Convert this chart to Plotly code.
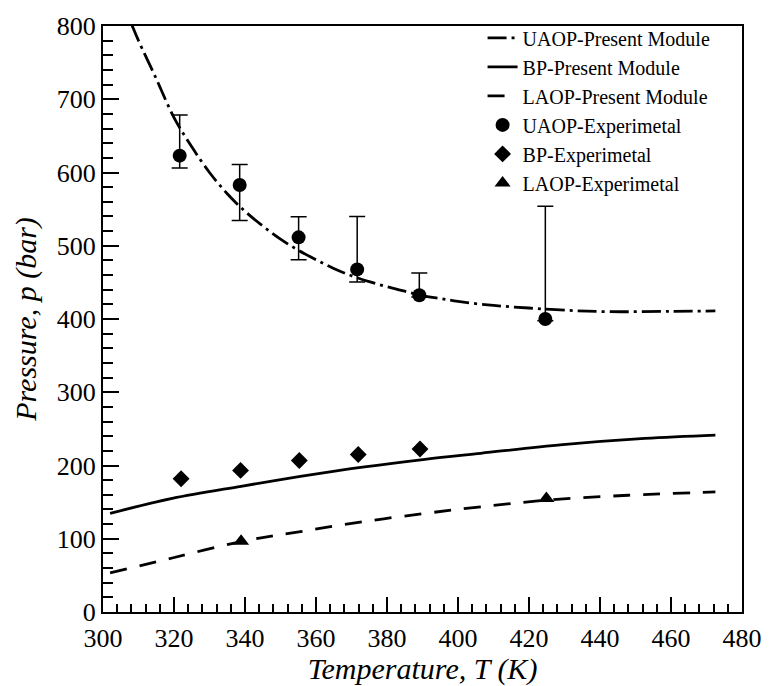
import plotly.graph_objects as go

# ---- Data ----
# Model curves (Present Module)
T_uaop_model = [302, 305, 308, 310, 315, 320, 325, 330, 335, 340, 345, 350, 355, 360, 365, 370,
                375, 380, 385, 390, 395, 400, 410, 420, 430, 442.5, 460, 472.5]
p_uaop_model = [885, 838, 803, 780, 728, 675, 635, 600, 571, 547, 527, 509, 494, 481, 469, 459,
                451, 444, 438, 432, 428, 424, 418.5, 415, 412, 410, 410.5, 411]

T_bp_model = [302, 319.5, 338.9, 355.6, 373.1, 390.7, 406.4, 429.5, 452.6, 472.5]
p_bp_model = [134.6, 155, 171.6, 185, 197.7, 208.5, 216.7, 228.5, 237, 241.6]

T_laop_model = [302, 319.5, 338.9, 355.6, 373.1, 390.7, 406.4, 424.9, 448, 472.5]
p_laop_model = [53.3, 73.7, 96.2, 109.7, 123.2, 134.6, 143.6, 152.6, 159.4, 163.9]

# Experimental data
T_uaop_exp = [321.6, 338.5, 355.1, 371.6, 389.1, 424.6]
p_uaop_exp = [623, 583, 511.5, 467.7, 432.5, 400]
p_uaop_upper = [678.5, 610.8, 539.5, 540, 462.7, 554]
p_uaop_lower = [606.3, 534.5, 480.8, 450.6, 430, 397.7]

T_bp_exp = [322, 338.75, 355.3, 371.9, 389.3]
p_bp_exp = [182, 193.3, 206.8, 215, 222.6]

T_laop_exp = [338.9, 424.9]
p_laop_exp = [96.5, 155]

x_ticks = [300, 320, 340, 360, 380, 400, 420, 440, 460, 480]
y_ticks = [0, 100, 200, 300, 400, 500, 600, 700, 800]

FONT = "Liberation Serif"

fig = go.Figure()

fig.add_trace(go.Scatter(x=T_uaop_model, y=p_uaop_model, mode="lines",
                         name="UAOP-Present Module", line_shape="spline",
                         line=dict(color="black", width=2.8, dash="19px,5px,3px,5px")))
fig.add_trace(go.Scatter(x=T_bp_model, y=p_bp_model, mode="lines",
                         name="BP-Present Module", line_shape="spline",
                         line=dict(color="black", width=2.8)))
fig.add_trace(go.Scatter(x=T_laop_model, y=p_laop_model, mode="lines",
                         name="LAOP-Present Module", line_shape="spline",
                         line=dict(color="black", width=2.8, dash="17px,13px")))

err_plus = [u - p for u, p in zip(p_uaop_upper, p_uaop_exp)]
err_minus = [p - l for l, p in zip(p_uaop_lower, p_uaop_exp)]
fig.add_trace(go.Scatter(x=T_uaop_exp, y=p_uaop_exp, mode="markers",
                         name="UAOP-Experimetal",
                         marker=dict(symbol="circle", size=14, color="black"),
                         error_y=dict(type="data", symmetric=False, array=err_plus,
                                      arrayminus=err_minus, color="black",
                                      thickness=1.5, width=8)))
fig.add_trace(go.Scatter(x=T_bp_exp, y=p_bp_exp, mode="markers",
                         name="BP-Experimetal",
                         marker=dict(symbol="diamond", size=13, color="black")))
fig.add_trace(go.Scatter(x=T_laop_exp, y=p_laop_exp, mode="markers",
                         name="LAOP-Experimetal",
                         marker=dict(symbol="triangle-up", size=14, color="black")))

axis_common = dict(
    showgrid=False, zeroline=False,
    showline=True, linecolor="black", linewidth=2, mirror=True,
    ticks="inside", tickcolor="black", tickwidth=2,
    tickfont=dict(family=FONT, size=26, color="black"),
)

fig.update_xaxes(
    range=[300, 480], tickvals=x_ticks, ticktext=[str(v) for v in x_ticks], ticklen=15,
    ticklabelstandoff=2,
    minor=dict(dtick=4, ticks="inside", ticklen=8, tickwidth=2, tickcolor="black"),
    title=dict(text="<i>Temperature, T (K)</i>", font=dict(family=FONT, size=30, color="black"),
               standoff=0),
    **axis_common)
fig.update_yaxes(
    range=[0, 800], tickvals=y_ticks, ticktext=[str(v) for v in y_ticks], ticklen=16,
    minor=dict(dtick=20, ticks="inside", ticklen=10, tickwidth=2, tickcolor="black"),
    title=dict(text="<i>Pressure, p (bar)</i>", font=dict(family=FONT, size=30, color="black"),
               standoff=11),
    **axis_common)

fig.update_layout(
    width=774, height=686,
    margin=dict(l=103, r=22, t=22, b=73),
    plot_bgcolor="white", paper_bgcolor="white",
    font=dict(family=FONT, color="black"),
    legend=dict(x=0.594, y=1.013, xanchor="left", yanchor="top",
                bgcolor="rgba(0,0,0,0)", borderwidth=0,
                font=dict(family=FONT, size=20, color="black"),
                tracegroupgap=0),
)

fig.write_html("out.html",
               config={"displayModeBar": False},
               post_script="document.body.style.margin='0';document.body.style.padding='0';")
